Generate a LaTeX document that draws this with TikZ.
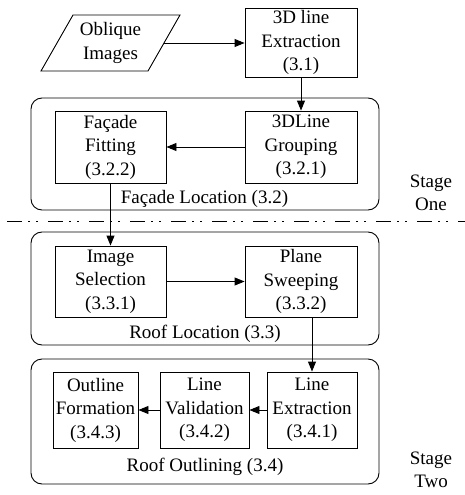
\documentclass[tikz,border=0pt]{standalone}
\usepackage{fontspec}
\setmainfont{Liberation Serif}
\usetikzlibrary{arrows.meta,shapes.geometric}
\begin{document}
\begin{tikzpicture}[x=1pt,y=-1pt,
  every node/.style={font=\rmfamily\fontsize{19}{23.5}\selectfont, inner sep=0pt},
  box/.style={draw, line width=0.9pt, align=center},
  grp/.style={draw, line width=0.9pt, rounded corners=11pt},
  arr/.style={line width=0.9pt, -{Triangle[length=10pt,width=8pt]}},
  lbl/.style={align=center}]
\useasboundingbox (0,0) rectangle (465,495);
% groups
\draw[grp] (31,98) rectangle (379,210);
\draw[grp] (31,232) rectangle (379,345);
\draw[grp] (31,359) rectangle (379,484);
% separator
\draw[line width=1.8pt, dash pattern=on 15pt off 6pt on 2pt off 6pt on 2pt off 10pt, dash phase=34pt] (0,221.5) -- (465,221.5);
% input parallelogram
\draw[box] (41,71) -- (73,15) -- (180,15) -- (148,71) -- cycle;
\node[lbl] (obl) at (110.5,43) {Oblique\\Images};
\coordinate (oblR) at (164,43);
% boxes
\node[box, minimum width=112pt, minimum height=69pt] (ext) at (301,42.5) {3D line\\Extraction\\(3.1)};
\node[box, minimum width=111pt, minimum height=72pt] (fit) at (110.5,147) {Façade\\Fitting\\(3.2.2)};
\node[box, minimum width=112pt, minimum height=72pt] (grp) at (301,147) {3DLine\\Grouping\\(3.2.1)};
\node[box, minimum width=111pt, minimum height=71pt] (sel) at (110.5,281.5) {Image\\Selection\\(3.3.1)};
\node[box, minimum width=112pt, minimum height=71pt] (swp) at (301,281.5) {Plane\\Sweeping\\(3.3.2)};
\node[box, minimum width=85pt, minimum height=76pt] (form) at (95.5,410) {Outline\\Formation\\(3.4.3)};
\node[box, minimum width=89pt, minimum height=76pt] (val) at (204.5,410) {Line\\Validation\\(3.4.2)};
\node[box, minimum width=90pt, minimum height=76pt] (lext) at (312,410) {Line\\Extraction\\(3.4.1)};
% group labels
\node[lbl] (l32) at (204.5,199) {Façade Location (3.2)};
\node[lbl] (l33) at (205,334) {Roof Location (3.3)};
\node[lbl] (l34) at (205,467) {Roof Outlining (3.4)};
\node[lbl] (s1) at (431,193) {Stage\\One};
\node[lbl] (s2) at (431,470) {Stage\\Two};
% arrows
\draw[arr] (oblR) -- (ext.west |- oblR);
\draw[arr] (ext.south) -- (grp.north);
\draw[arr] (grp.west) -- (fit.east);
\draw[arr] (fit.south) -- (sel.north);
\draw[arr] (sel.east) -- (swp.west);
\draw[arr] (swp.south -| lext.north) -- (lext.north);
\draw[arr] (lext.west) -- (val.east);
\draw[arr] (val.west) -- (form.east);
\end{tikzpicture}
\end{document}
